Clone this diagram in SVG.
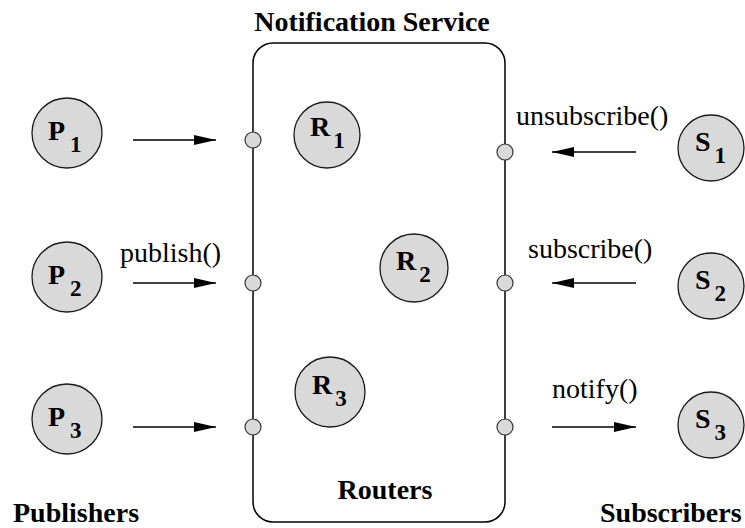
<svg xmlns="http://www.w3.org/2000/svg" width="745" height="528" viewBox="0 0 745 528">
  <style>
    .node { fill: #d9d9d9; stroke: #1a1a1a; stroke-width: 1.3; }
    .port { fill: #d9d9d9; stroke: #333; stroke-width: 1.2; }
    .box { fill: none; stroke: #000; stroke-width: 1.5; }
    .edge { stroke: #000; stroke-width: 1.3; fill: none; marker-end: url(#arrow); }
    .lbl { font-family: "Liberation Serif", "Times New Roman", serif; font-size: 28px; font-weight: bold; fill: #000; }
    .sub { font-size: 23px; }
    .op { font-family: "Liberation Serif", "Times New Roman", serif; font-size: 28px; fill: #000; }
  </style>
  <defs>
    <marker id="arrow" markerWidth="22" markerHeight="10" refX="22" refY="5" orient="auto" markerUnits="userSpaceOnUse">
      <path d="M0,0 L22,5 L0,10 Z" fill="#000"/>
    </marker>
  </defs>

  <rect width="745" height="528" fill="#fff"/>

  <!-- notification service -->
  <g id="service">
    <text class="lbl" x="372" y="31" text-anchor="middle">Notification Service</text>
    <rect class="box" x="253" y="43" width="252" height="479" rx="20" ry="20"/>
    <text class="lbl" x="385" y="499" text-anchor="middle">Routers</text>
    <circle class="port" cx="253" cy="140" r="8"/>
    <circle class="port" cx="253" cy="283" r="8"/>
    <circle class="port" cx="253" cy="427" r="8"/>
    <circle class="port" cx="505" cy="152" r="8"/>
    <circle class="port" cx="505" cy="283" r="8"/>
    <circle class="port" cx="505" cy="427" r="8"/>
  </g>

  <!-- publishers -->
  <g id="P1"><circle class="node" cx="67" cy="133" r="35"/><text class="lbl" x="48" y="140">P<tspan class="sub" dx="5" dy="12">1</tspan></text></g>
  <g id="P2"><circle class="node" cx="67" cy="277" r="35"/><text class="lbl" x="48" y="284">P<tspan class="sub" dx="5" dy="12">2</tspan></text></g>
  <g id="P3"><circle class="node" cx="67" cy="419" r="35"/><text class="lbl" x="48" y="426">P<tspan class="sub" dx="5" dy="12">3</tspan></text></g>

  <!-- routers -->
  <g id="R1"><circle class="node" cx="327" cy="135" r="33"/><text class="lbl" x="310" y="136">R<tspan class="sub" dx="3" dy="12">1</tspan></text></g>
  <g id="R2"><circle class="node" cx="414" cy="268" r="34"/><text class="lbl" x="396" y="270">R<tspan class="sub" dx="3" dy="12">2</tspan></text></g>
  <g id="R3"><circle class="node" cx="330" cy="392" r="35"/><text class="lbl" x="312" y="394">R<tspan class="sub" dx="3" dy="12">3</tspan></text></g>

  <!-- subscribers -->
  <g id="S1"><circle class="node" cx="711" cy="148" r="33"/><text class="lbl" x="695" y="151">S<tspan class="sub" dx="4" dy="12">1</tspan></text></g>
  <g id="S2"><circle class="node" cx="711" cy="286" r="33"/><text class="lbl" x="695" y="289">S<tspan class="sub" dx="4" dy="12">2</tspan></text></g>
  <g id="S3"><circle class="node" cx="711" cy="425" r="33"/><text class="lbl" x="695" y="428">S<tspan class="sub" dx="4" dy="12">3</tspan></text></g>

  <!-- group captions -->
  <text class="lbl" x="13" y="522">Publishers</text>
  <text class="lbl" x="600" y="522">Subscribers</text>

  <!-- connectors -->
  <g id="connectors">
    <line class="edge" x1="133" y1="140" x2="216" y2="140"/>
    <line class="edge" x1="133" y1="283" x2="216" y2="283"/>
    <line class="edge" x1="133" y1="427" x2="216" y2="427"/>
    <line class="edge" x1="636" y1="152" x2="552" y2="152"/>
    <line class="edge" x1="636" y1="283" x2="552" y2="283"/>
    <line class="edge" x1="552" y1="427" x2="636" y2="427"/>
    <text class="op" x="120" y="262">publish()</text>
    <text class="op" x="516" y="125">unsubscribe()</text>
    <text class="op" x="528" y="258">subscribe()</text>
    <text class="op" x="552" y="398">notify()</text>
  </g>
</svg>
